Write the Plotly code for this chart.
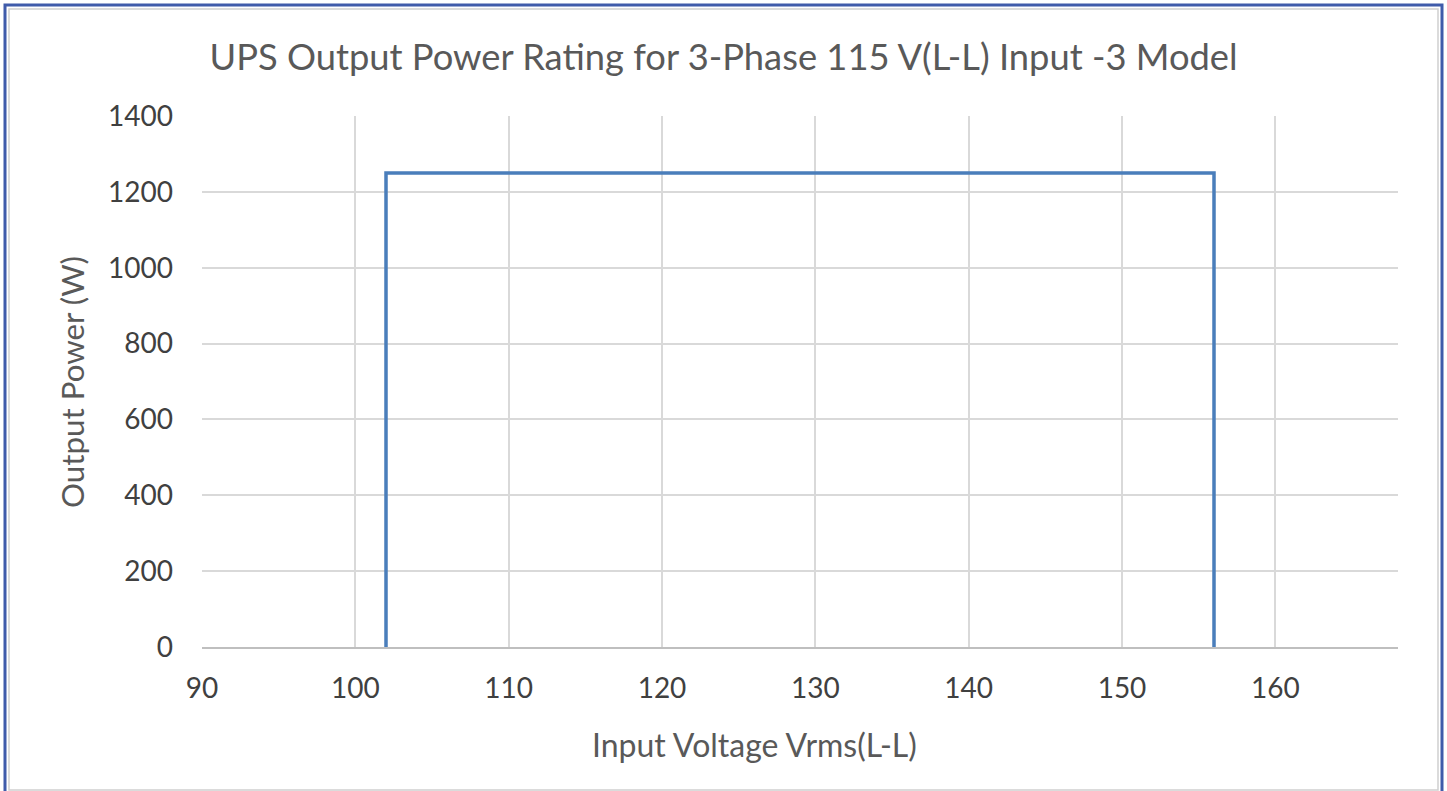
import plotly.graph_objects as go

# Data
voltage = [102, 102, 156, 156]
power = [0, 1250, 1250, 0]
x_ticks = [90, 100, 110, 120, 130, 140, 150, 160]
y_ticks = [0, 200, 400, 600, 800, 1000, 1200, 1400]

W, H = 1447, 791
L, R, T, B = 202, 1398, 116, 647
pw, ph = R - L, B - T

def px(x):
    return (x - L) / pw

def py(y):
    return (B - y) / ph

FONT = "Lato"
TXT = "#595959"

fig = go.Figure()
fig.add_trace(go.Scatter(x=voltage, y=power, mode="lines",
                         line=dict(color="#4A7EBB", width=3.5),
                         showlegend=False, hoverinfo="skip"))

fig.update_layout(
    width=W, height=H,
    margin=dict(l=L, r=W - R, t=T, b=H - B),
    paper_bgcolor="white", plot_bgcolor="white",
    title=dict(text="UPS Output Power Rating for 3-Phase 115 V(L-L) Input -3 Model",
               x=0.5, xref="container", xanchor="center",
               y=1 - 57 / H, yref="container", yanchor="middle",
               font=dict(family=FONT, size=36.3, color=TXT)),
    font=dict(family=FONT, color=TXT),
    xaxis=dict(range=[90, 168], tickvals=x_ticks, showgrid=True,
               gridcolor="#D9D9D9", gridwidth=1.5, zeroline=False,
               showline=True, linecolor="#BFBFBF", linewidth=1.5,
               ticks="", tickfont=dict(family=FONT, size=28, color="#404040"),
               ticklabelstandoff=16),
    yaxis=dict(range=[0, 1400], tickvals=y_ticks, showgrid=True,
               gridcolor="#D9D9D9", gridwidth=1.5, zeroline=False,
               showline=False, ticks="",
               tickfont=dict(family=FONT, size=28, color="#404040"),
               ticklabelstandoff=28),
    annotations=[
        dict(text="Input Voltage Vrms(L-L)", xref="paper", yref="paper",
             x=px(754), y=py(744), xanchor="center", yanchor="middle",
             showarrow=False, font=dict(family=FONT, size=32, color=TXT)),
        dict(text="Output Power (W)", xref="paper", yref="paper",
             x=px(72), y=py(382), xanchor="center", yanchor="middle",
             textangle=-90, showarrow=False,
             font=dict(family=FONT, size=31.3, color=TXT)),
    ],
    shapes=[
        dict(type="rect", xref="paper", yref="paper",
             x0=px(9), x1=px(1438), y0=py(790), y1=py(9),
             line=dict(color="#D0D0D0", width=1.5), layer="below"),
        dict(type="rect", xref="paper", yref="paper",
             x0=px(5), x1=px(1442), y0=py(800), y1=py(5),
             line=dict(color="#3F5BAA", width=3), layer="below"),
    ],
)

fig.write_html("out.html", config={"displayModeBar": False},
               post_script="document.body.style.margin='0';document.body.style.overflow='hidden';")
